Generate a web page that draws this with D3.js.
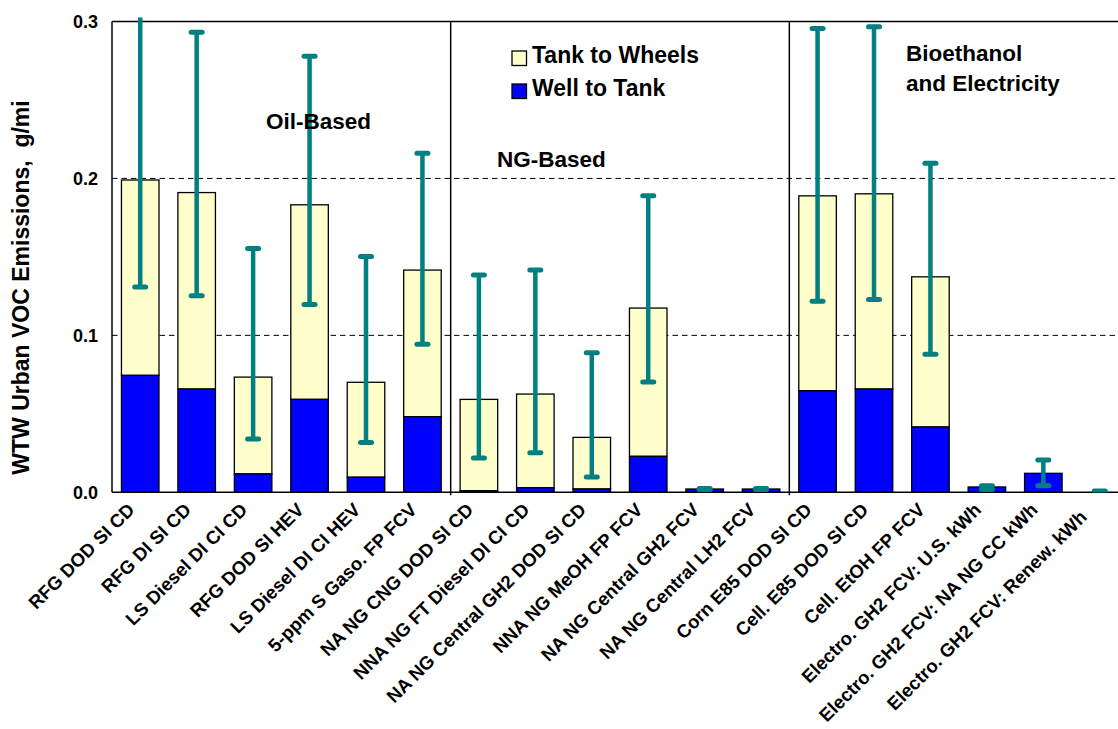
<!DOCTYPE html>
<html>
<head>
<meta charset="utf-8">
<script src="https://cdn.jsdelivr.net/npm/d3@7"></script>
<style>
  html, body { margin: 0; padding: 0; background: #fff; }
  text { font-family: "Liberation Sans", Arial, sans-serif; font-weight: bold; fill: #000; white-space: pre; }
</style>
</head>
<body>
<svg id="chart" width="1118" height="729"></svg>
<script>
const categories = [
  "RFG DOD SI CD", "RFG DI SI CD", "LS Diesel DI CI CD", "RFG DOD SI HEV",
  "LS Diesel DI CI HEV", "5-ppm S Gaso. FP FCV", "NA NG CNG DOD SI CD",
  "NNA NG FT Diesel DI CI CD", "NA NG Central GH2 DOD SI CD", "NNA NG MeOH FP FCV",
  "NA NG Central GH2 FCV", "NA NG Central LH2 FCV", "Corn E85 DOD SI CD",
  "Cell. E85 DOD SI CD", "Cell. EtOH FP FCV", "Electro. GH2 FCV: U.S. kWh",
  "Electro. GH2 FCV: NA NG CC kWh", "Electro. GH2 FCV: Renew. kWh  "
];
const wellToTank   = [0.0745, 0.0658, 0.0117, 0.0592, 0.0096, 0.0482, 0.0010, 0.0029, 0.0021, 0.0229, 0.0021, 0.0021, 0.0647, 0.0658, 0.0416, 0.0034, 0.0121, 0.0];
const tankToWheels = [0.1245, 0.1252, 0.0617, 0.1240, 0.0605, 0.0934, 0.0582, 0.0597, 0.0329, 0.0945, 0.0, 0.0, 0.1242, 0.1244, 0.0957, 0.0, 0.0, 0.0];
const errorLow     = [0.1308, 0.1252, 0.0340, 0.1197, 0.0318, 0.0943, 0.0218, 0.0252, 0.0097, 0.0703, 0.0018, 0.0018, 0.1218, 0.1229, 0.0879, 0.0018, 0.0042, 0.0003];
const errorHigh    = [0.3100, 0.2932, 0.1554, 0.2779, 0.1503, 0.2161, 0.1384, 0.1416, 0.0889, 0.1889, 0.0024, 0.0024, 0.2955, 0.2966, 0.2097, 0.0042, 0.0206, 0.0008];
const yTicks = [0.0, 0.1, 0.2, 0.3];
const gridTicks = [0.1, 0.2];
const seriesNames = ["Tank to Wheels", "Well to Tank"];
const seriesColors = ["#FFFFCC", "#0000FF"];
const groupLabels = ["Oil-Based", "NG-Based", "Bioethanol", "and Electricity"];
const groupBreaks = [6, 12];

const svg = d3.select("#chart");
const pLeft = 112, pRight = 1128, pTop = 21.5, pBottom = 492.3;

const x = d3.scaleBand().domain(categories).range([pLeft, pRight]).paddingInner(0.335).paddingOuter(0.1675);
const y = d3.scaleLinear().domain([0, 0.3]).range([pBottom, pTop]);

svg.append("rect").attr("width", 1118).attr("height", 729).attr("fill", "#fff");

svg.append("defs").append("clipPath").attr("id", "plotclip")
  .append("rect").attr("x", pLeft).attr("y", pTop - 4).attr("width", pRight - pLeft).attr("height", pBottom - pTop + 4);

// gridlines
svg.append("g").selectAll("line").data(gridTicks).join("line")
  .attr("x1", pLeft).attr("x2", pRight)
  .attr("y1", d => y(d)).attr("y2", d => y(d))
  .attr("stroke", "#000").attr("stroke-width", 1).attr("stroke-dasharray", "5.5,4");

// bars
const data = categories.map((c, i) => ({c, wtt: wellToTank[i], ttw: tankToWheels[i], lo: errorLow[i], hi: errorHigh[i]}));
const gBars = svg.append("g");
gBars.selectAll("rect.ttw").data(data.filter(d => d.ttw > 0)).join("rect")
  .attr("class", "ttw")
  .attr("x", d => x(d.c)).attr("width", x.bandwidth())
  .attr("y", d => y(d.wtt + d.ttw)).attr("height", d => y(d.wtt) - y(d.wtt + d.ttw))
  .attr("fill", seriesColors[0]).attr("stroke", "#000").attr("stroke-width", 1.3);
gBars.selectAll("rect.wtt").data(data.filter(d => d.wtt > 0)).join("rect")
  .attr("class", "wtt")
  .attr("x", d => x(d.c)).attr("width", x.bandwidth())
  .attr("y", d => y(d.wtt)).attr("height", d => y(0) - y(d.wtt))
  .attr("fill", seriesColors[1]).attr("stroke", "#000").attr("stroke-width", 1.3);

// group dividers
svg.append("g").selectAll("line").data(groupBreaks).join("line")
  .attr("x1", i => (x(categories[i - 1]) + x.bandwidth() + x(categories[i])) / 2)
  .attr("x2", i => (x(categories[i - 1]) + x.bandwidth() + x(categories[i])) / 2)
  .attr("y1", pTop).attr("y2", pBottom + 3)
  .attr("stroke", "#000").attr("stroke-width", 1.5);

// axes frame
svg.append("line").attr("x1", pLeft).attr("x2", pRight).attr("y1", pTop).attr("y2", pTop).attr("stroke", "#000").attr("stroke-width", 1.5);
svg.append("line").attr("x1", pLeft).attr("x2", pLeft).attr("y1", pTop).attr("y2", pBottom).attr("stroke", "#000").attr("stroke-width", 1.5);
svg.append("line").attr("x1", pLeft).attr("x2", pRight).attr("y1", pBottom).attr("y2", pBottom).attr("stroke", "#000").attr("stroke-width", 1.5);

// error bars
const teal = "#008080";
const gErr = svg.append("g").attr("clip-path", "url(#plotclip)");
const cx = d => x(d.c) + x.bandwidth() / 2;
gErr.selectAll("line.stem").data(data).join("line")
  .attr("class", "stem")
  .attr("x1", cx).attr("x2", cx)
  .attr("y1", d => y(d.lo)).attr("y2", d => y(d.hi))
  .attr("stroke", teal).attr("stroke-width", 4.5);
const caps = [];
data.forEach(d => { caps.push({d, v: d.lo}); if (d.hi <= 0.3) caps.push({d, v: d.hi}); });
gErr.selectAll("line.cap").data(caps).join("line")
  .attr("class", "cap")
  .attr("x1", k => cx(k.d) - 5.5).attr("x2", k => cx(k.d) + 5.5)
  .attr("y1", k => y(k.v)).attr("y2", k => y(k.v))
  .attr("stroke", teal).attr("stroke-width", 5).attr("stroke-linecap", "round");

// y tick labels
svg.append("g").selectAll("text").data(yTicks).join("text")
  .attr("x", 98).attr("y", d => y(d)).attr("dy", "0.35em")
  .attr("text-anchor", "end").style("font-size", "18px")
  .text(d => d.toFixed(1));

// y title
svg.append("text")
  .attr("transform", "translate(28.5,287.5) rotate(-90)")
  .attr("text-anchor", "middle").style("font-size", "23px")
  .text("WTW Urban VOC Emissions,  g/mi");

// x labels
svg.append("g").selectAll("text").data(categories).join("text")
  .attr("transform", c => "translate(" + (x(c) + x.bandwidth() / 2 - 4.5) + "," + 511 + ") rotate(-45)")
  .attr("text-anchor", "end").style("font-size", "18.6px")
  .text(c => c);

// legend
const legend = svg.append("g");
seriesNames.forEach((s, i) => {
  legend.append("rect").attr("x", 512).attr("y", 51 + i * 33).attr("width", 14.5).attr("height", 14.5)
    .attr("fill", seriesColors[i]).attr("stroke", "#000").attr("stroke-width", 1.3);
  legend.append("text").attr("x", 532).attr("y", 63 + i * 33).style("font-size", "23px").text(s);
});

// group annotations
svg.append("text").attr("x", 266).attr("y", 128.5).style("font-size", "22.5px").text(groupLabels[0]);
svg.append("text").attr("x", 497).attr("y", 166.5).style("font-size", "22.5px").text(groupLabels[1]);
svg.append("text").attr("x", 906).attr("y", 61).style("font-size", "22.5px").text(groupLabels[2]);
svg.append("text").attr("x", 906).attr("y", 90.5).style("font-size", "22.5px").text(groupLabels[3]);
</script>
</body>
</html>
